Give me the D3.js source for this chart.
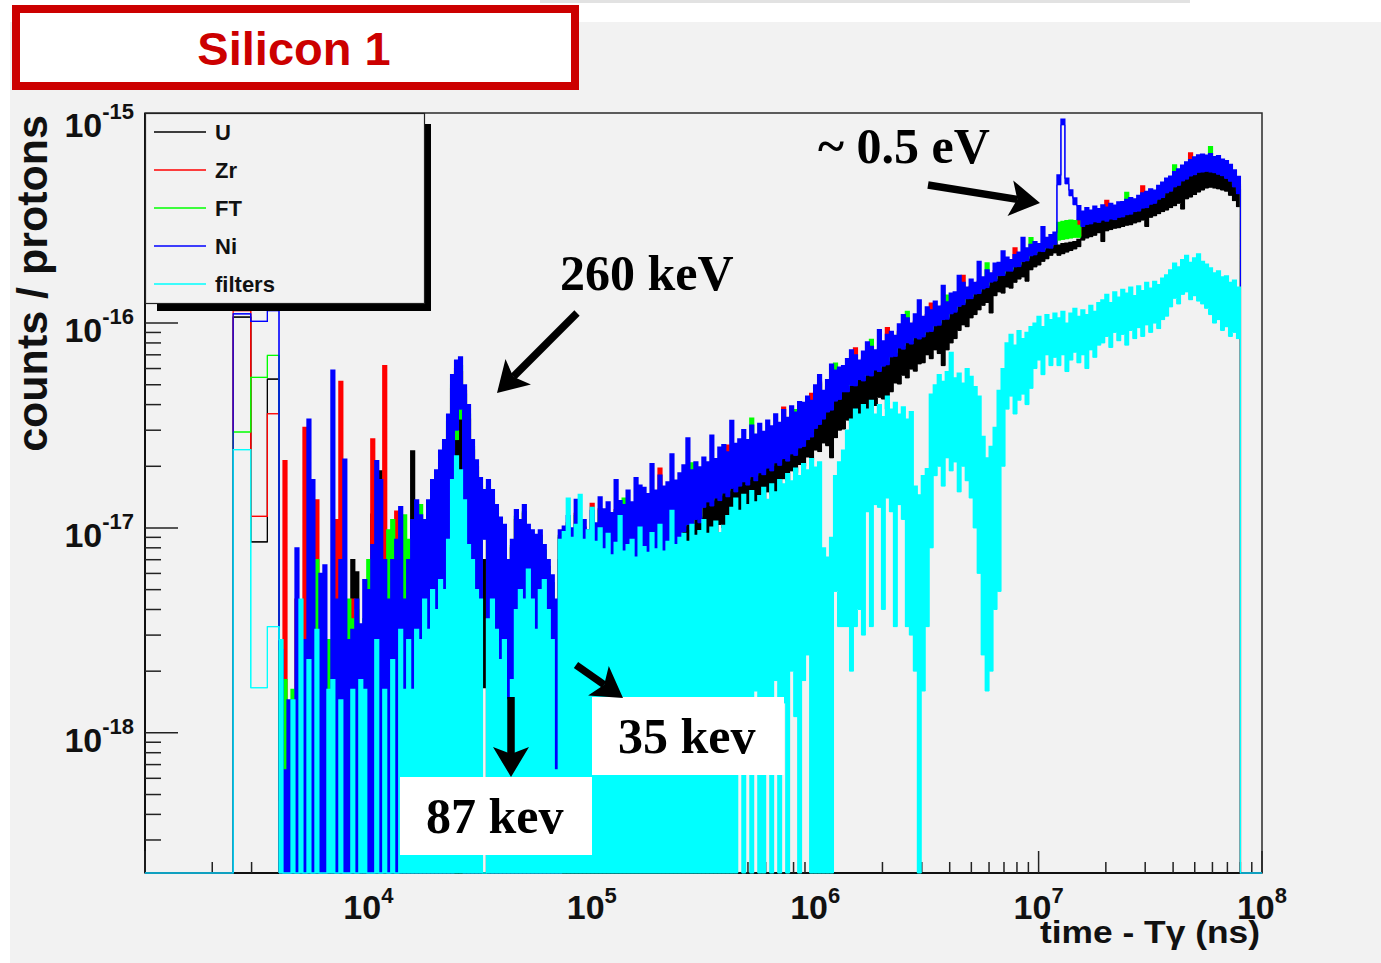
<!DOCTYPE html>
<html>
<head>
<meta charset="utf-8">
<script src="https://cdn.jsdelivr.net/npm/d3@7"></script>
<style>
  body { margin: 0; background: #ffffff; }
  svg { display: block; }
</style>
</head>
<body>
<svg id="chart" width="1381" height="963"></svg>
<script>
// ---------------------------------------------------------------------------
// Silicon detector 1: yield versus time of flight (time - T_gamma, ns)
// for the U, Zr, FT, Ni and filter runs. Yields are in units of 1e-18
// counts per proton.
// ---------------------------------------------------------------------------
const UNIT = 1e-18;

const seriesNames = ["U", "Zr", "FT", "Ni", "filters"];

// Three wide leading bins (edges in ns) and their contents
const headEdges = [2480, 2975, 3530, 3980];
const headU       = [107, 8.55, 53.3];
const headZr      = [115, 11.4, 36.1];
const headFT      = [29.4, 54.3, 69.5];
const headNi      = [111, 102, 115];
const headFilters = [24.1, 1.66, 3.3];

// Fine binning: log-spaced from 3980 ns, 56 bins per decade, 241 bins.
// For every fine bin the upper (Hi) and lower (Lo) envelope of the yield
// is kept; 0 means an empty bin.
const fineStart = 3980;
const binsPerDecade = 56;
const nFine = 241;

const niHi = [
  2.55,0.66,1.45,0.74,8.0,1.16,2.85,34,17.2,1.63,6.0,6.6,1.45,59,4.5,7.0,21.7,2.85,3.2,4.5,
  3.4,5.6,5.0,8.3,21.3,17.2,7.0,4.5,7.0,8.8,12.7,4.5,7.0,11,13.7,11.6,11,13.7,17.2,19.2,24,
  27,36,56,66,68.5,50,40,27,21.5,17.6,15.4,17.2,15.4,13,11.3,10.4,7.0,8.8,12.3,11,
  13,10.4,9.8,9.3,9.8,8.3,7.0,5.9,4.5,9.8,
  10.2,11.5,10.0,13.8,10.5,11.0,9.8,12.2,10.6,14.2,
  12.4,13.4,11.9,17.2,13.6,13.0,15.3,13.4,17.6,16.2,
  15.8,14.7,20.6,15.3,18.1,16.0,16.8,23.0,17.1,18.6,
  20.3,27.5,19.2,21.0,19.9,22.2,21.0,28.4,21.8,24.8,
  25.5,23.5,33.5,25.9,27.2,30.2,27.0,31.8,28.7,32.4,
  29.6,33.6,31.5,36.1,32.8,37.8,34.7,39.5,36.8,41.4,
  41,44,42,50,56,47,53,63,59,61,
  62,67,74,70,66,73,81,77,74,93,
  82,88,91,87,99,110,106,100,111,130,
  108,120,116,128,121,153,127,140,142,171,
  158,150,164,158,200,168,182,176,196,198,
  225,210,204,216,222,262,233,242,250,244,
  296,262,270,278,
  529,990,510,447,408,374,
  352,366,356,372,362,378,368,384,376,390,
  392,402,410,404,420,432,440,452,446,470,
  488,510,522,548,566,590,612,628,648,662,
  668,660,672,650,656,632,620,596,560,520
];
const niLo = [
  0,0,0,0,0,0,0,0,0,0,0,0,0,0,0,0,0,0,0,0,0,0,0,0,0,0,0,0,0,0,0,0,0,0,0,0,0,0,0,0,0,
  0,0,0,30,38,0,0,0,0,0,8.8,0,0,0,0,0,0,0,0,0,0,0,0,0,0,0,0,0,0,0,
  5.6,6.0,5.2,6.4,5.8,5.4,6.2,5.6,5.0,6.6,
  5.8,6.2,5.4,6.0,6.8,5.6,6.4,6.0,7.0,6.6,
  7.2,6.8,7.6,7.0,8.0,7.4,8.2,8.8,8.0,9.0,
  9.6,10.4,9.8,11.0,10.6,
  12.6,13.4,12.8,14.0,13.6,14.8,14.2,15.6,15.0,16.0,
  16.8,16.2,17.8,17.0,18.6,18.2,19.6,19.0,20.8,20.2,
  21.8,21.2,23.0,22.6,24.6,25.0,27.0,27.8,30.6,32.0,
  34,36.8,37.6,41.6,42.4,46.2,46.2,49.6,49.4,53,
  52.2,55.6,55.2,59,58,61.6,62.6,68.4,68.8,75.6,
  74.6,80.2,79,84.8,83.6,
  85.6,90.6,91,97,97.6,104,104.4,111,113,120.6,
  123,131.4,131.6,138.6,139.4,146.8,149,158.4,160.4,170.4,
  170.6,179.4,179.2,188,188.6,199.6,201.4,213,215.4,224,
  223.4,232.6,232,242,
  473,928,478,418,378,319,
  296,303,305,312,310,318,314,322,320,328,
  330,338,340,350,352,364,366,380,384,402,
  410,432,440,462,470,494,504,522,530,544,
  546,550,546,542,532,524,508,492,462,428
];

const uHi = [
  0.47,0.74,0.83,0.47,1.16,0,1.45,2.85,2.85,1.45,0,0.74,0,1.16,2.55,1.45,0,1.45,7.0,6.1,
  1.63,2.85,4.5,11.7,4.5,19,8.3,2.85,4.5,7.0,6.3,4.5,4.5,23.8,11,7.0,9.3,7.0,9.3,8.8,13.7,
  17.2,21.5,30,38,41.5,34,21.5,13.7,8.8,7.0,7.0,11,9.8,8.8,8.3,7.0,5.6,7.0,7.8,8.3,
  7.4,7.0,7.8,7.0,7.4,6.3,5.6,4.5,3.6,7.0,
  8.2,8.6,8.0,8.8,8.4,8.6,8.2,9.0,8.6,9.0,
  9.0,9.4,9.2,9.8,9.6,10.0,10.4,10.2,10.8,11.0,
  11.2,11.0,11.8,11.6,12.4,12.0,12.8,13.2,13.0,13.8,
  14.2,14.6,14.4,15.2,15.0,15.8,16.0,16.8,16.6,17.6,
  18.2,18.0,19.4,19.2,20.2,20.8,21.0,22.4,22.2,23.6,
  23.8,24.8,25.0,26.6,26.4,28.0,28.2,30.0,29.8,31.8,
  27,29,30,33,34.5,
  36.7,39.7,40.6,44.9,45.8,49.9,49.9,53.6,53.4,57.2,
  56.4,60,59.6,63.7,62.6,66.5,67.6,73.9,74.3,81.6,
  80.6,86.6,85.3,91.6,90.3,
  92.4,97.8,98.3,104.8,105.4,112.3,112.8,119.9,122,130.2,
  132.8,141.9,142.1,149.7,150.6,158.5,160.9,171.1,173.2,184,
  184.2,193.8,193.5,203,203.7,215.6,217.5,230,232.6,241.9,
  241.3,251.2,250.6,261.4,
  240,244,246,248,250,256,
  311,318,320,328,326,334,330,338,336,344,
  347,355,357,368,370,382,384,399,403,422,
  431,454,462,485,494,519,529,548,557,571,
  573,578,573,569,559,550,533,517,485,449
];
const uLo = [
  0,0,0,0,0,0,0,0,0,0,0,0,0,0,0,0,0,0,0,0,0,0,0,0,0,0,0,0,0,0,0,0,0,0,0,0,0,0,0,0,0,
  0,0,0,13.7,13.7,0,0,0,0,0,1.66,0,0,0,0,0,0,0,0,0,0,0,0,0,0,0,0,0,0,0,
  4.0,3.6,4.4,3.8,4.2,4.6,4.0,4.8,4.4,5.0,
  4.6,5.2,4.8,5.4,5.0,5.6,5.2,5.8,5.4,6.0,
  5.8,6.4,6.0,6.8,6.4,7.0,6.6,7.4,7.0,7.8,
  6.2,6.8,8.2,7.6,8.6,9.4,8.8,9.8,9.2,10.4,
  10.0,11.2,10.6,11.8,11.0,12.4,12.0,13.4,12.6,14.0,
  13.4,15.0,14.6,13.0,15.8,17.4,17.0,19.0,18.6,20.4,
  20.0,22.2,21.6,24.0,23.6,26.0,25.2,22.0,27.6,30.0,
  30.4,33.6,32.2,35.8,34.6,37.6,36.4,40.0,39.6,43.4,
  42.6,38.0,46.2,51.0,50.4,55.6,54.0,59.6,58.2,63.2,
  64,70,67,74,71,62,74,80,84,92,
  98,96,106,110,116,122,126,112,136,142,
  140,150,148,158,164,168,160,182,188,192,
  200,206,214,220,
  214,218,222,226,230,236,
  254,260,264,268,276,250,282,286,290,292,
  296,300,302,308,312,318,296,328,334,342,
  350,356,366,374,384,360,404,412,424,436,
  446,456,460,456,452,446,440,420,396,370
];

const zrHi = [
  1.45,21.3,1.16,0.59,4.5,3.2,31,7.0,3.6,13.7,4.0,1.45,1.82,1.45,11,52,3.6,2.28,4.5,2.85,
  1.45,2.55,3.6,27.2,4.5,7.0,62,3.6,5.6,12.1,7.0,4.5,5.0,7.0,8.8,9.8,7.0,11,12.3,13.7,17.2,
  25,30,48,60,58,47,34,24,20,16,11,15,14,12,10.5,9.6,6.4,8.0,11,10.2,
  11.8,9.6,9.0,8.6,9.2,7.6,6.5,5.4,4.0,9.0,
  9.4,10.6,9.2,11.8,9.7,10.1,9.0,13.2,9.8,12.4,
  10.6,11.4,10.1,12.3,11.6,11.0,13.1,11.4,12.7,13.8,
  13.4,12.5,14.2,13.1,19.6,13.6,14.4,16.6,14.5,15.8,
  17.3,19.7,16.4,17.8,16.9,19.0,17.8,20.6,18.6,21.2,
  21.7,25.4,24.3,22.1,23.2,25.8,23.0,27.0,24.5,27.6,
  25.9,29.4,27.6,31.6,28.7,38.9,30.4,34.6,32.2,36.2,
  37.7,40.5,45.4,46,51.5,43.2,48.8,50.6,54.3,56.1,
  57,61.6,58.9,75.6,60.7,67.2,64.4,70.8,68.1,74.5,
  75.4,95,83.7,80,91.1,87.4,97.5,92,102,104,
  99.4,110,125,118,111,122,117,129,131,137,
  171,138,151,145,160,155,167,168,180,182,
  180,193,188,233,204,210,214,223,230,236,
  236,241,248,256,
  290,296,300,304,310,318,
  324,337,328,342,333,348,397,353,346,359,
  361,370,377,372,386,467,405,416,410,432,
  449,469,480,504,521,543,563,678,596,609,
  615,607,618,598,604,581,570,548,515,478
];
const zrLo = [
  0,0,0,0,0,0,0,0,0,0,0,0,0,0,0,0,0,0,0,0,0,0,0,0,0,0,0,0,0,0,0,0,0,0,0,0,0,0,0,0,0,
  0,0,0,28,36,0,0,0,0,0,9,0,0,0,0,0,0,0,0,0,0,0,0,0,0,0,0,0,0,0,
  6.0,6.5,5.6,6.9,6.3,5.8,6.7,6.0,5.4,7.1,
  6.3,6.7,5.8,6.5,7.3,6.0,6.9,6.5,7.6,7.1,
  7.8,7.3,8.2,7.6,8.6,8.0,8.9,9.5,8.6,9.7,
  10.4,11.2,10.6,11.9,11.4,
  13.6,14.5,13.8,15.1,14.7,16.0,15.3,16.8,16.2,17.3,
  18.1,17.5,19.2,18.4,20.1,19.7,21.2,20.5,22.5,21.8,
  23.5,22.9,24.8,24.4,26.6,27.0,29.2,30.0,33.0,34.6,
  36,39,39.9,44.1,44.9,49,49,52.6,52.4,56.2,
  55.3,58.9,58.5,62.5,61.5,65.3,66.4,72.5,72.9,80.1,
  79.1,85,83.7,89.9,88.6,
  88.2,93.3,93.7,99.9,100.5,107.1,107.5,114.3,116.4,124.2,
  126.7,135.3,135.5,142.8,143.6,151.2,153.5,163.2,165.2,175.5,
  175.7,184.8,184.6,193.6,194.3,205.6,207.4,219.4,221.9,230.7,
  230.1,239.6,239,249.3,
  256,258,260,262,264,266,
  305,312,314,321,319,328,323,332,330,338,
  340,348,350,360,363,375,377,391,396,414,
  422,445,453,476,484,509,519,538,546,560,
  562,567,562,558,548,540,523,507,476,441
];

const ftHi = [
  0.74,1.82,0.93,1.63,1.45,0.74,1.16,1.45,2.55,7.0,4.5,0.59,2.85,0.74,3.6,1.45,2.28,4.5,3.6,4.0,
  2.55,3.6,7.0,4.5,5.6,3.6,4.5,9.8,11,7.0,9.8,11.6,8.8,5.6,8.8,13,8.8,9.8,13.7,12.3,15.4,
  24,33,50,58,62,45,36,25,19,15.6,13,15.8,13.6,12,10,9.4,6.6,8.2,11.4,10,
  12,9.8,8.8,8.8,9.0,7.8,6.4,5.4,4.2,9.2,
  9.2,10.3,9.0,11.5,9.5,9.9,8.8,11.0,9.5,12.2,
  10.4,11.2,9.9,12.1,11.3,14.0,12.8,11.2,12.4,13.5,
  13.1,12.2,13.9,12.8,15.1,13.3,14.0,16.2,14.2,15.5,
  16.9,19.3,20.8,17.5,16.6,18.5,17.5,20.2,18.2,20.7,
  21.2,19.6,23.8,21.6,22.7,25.2,22.5,34.4,23.9,27.0,
  25.4,28.8,27.0,31.0,28.1,32.4,29.7,33.8,37.8,35.5,
  36.9,39.6,37.8,45,50.4,42.3,47.7,49.5,63.7,54.9,
  55.8,60.3,57.6,63,59.4,65.7,63,83.2,66.6,72.9,
  73.8,79.2,81.9,78.3,89.1,85.5,114,90,99.9,102,
  97.2,108,104,115,109,120,137,126,128,134,
  142,135,148,142,157,151,197,166,176,178,
  176,189,184,194,200,205,210,261,225,234,
  231,246,243,250,
  310,314,316,318,316,300,
  317,329,320,335,326,340,331,346,338,351,
  353,434,369,364,378,389,396,407,401,423,
  439,459,470,592,509,531,551,565,583,596,
  601,594,726,585,590,569,558,536,504,468
];
const ftLo = [
  0,0,0,0,0,0,0,0,0,0,0,0,0,0,0,0,0,0,0,0,0,0,0,0,0,0,0,0,0,0,0,0,0,0,0,0,0,0,0,0,0,
  0,0,0,27,34,0,0,0,0,0,9,0,0,0,0,0,0,0,0,0,0,0,0,0,0,0,0,0,0,0,
  5.9,6.4,5.5,6.8,6.2,5.7,6.6,5.9,5.3,7.0,
  6.2,6.6,5.7,6.4,7.2,5.9,6.8,6.4,7.4,7.0,
  7.6,7.2,8.1,7.4,8.5,7.8,8.7,9.3,8.5,9.5,
  10.2,11.0,10.4,11.7,11.2,
  13.4,14.2,13.6,14.8,14.4,15.7,15.1,16.5,15.9,17.0,
  17.8,17.2,18.9,18.0,19.7,19.3,20.8,20.1,22.0,21.4,
  23.1,22.5,24.4,24.0,26.1,26.5,28.6,29.5,32.4,33.9,
  35.4,38.3,39.1,43.3,44.1,48,48,51.6,51.4,55.1,
  54.3,57.8,57.4,61.4,60.3,64.1,65.1,71.1,71.6,78.6,
  77.6,83.4,82.2,88.2,86.9,
  87.3,92.4,92.8,98.9,99.6,106.1,106.5,113.2,115.3,123,
  125.5,134,134.2,141.4,142.2,149.7,152,161.6,163.6,173.8,
  174,183,182.8,191.8,192.4,203.6,205.4,217.3,219.7,228.5,
  227.9,237.3,236.6,246.8,
  254,256,258,260,262,262,
  302,309,311,318,316,324,320,328,326,335,
  337,345,347,357,359,371,373,388,392,410,
  418,441,449,471,479,504,514,532,541,555,
  557,561,557,553,543,534,518,502,471,437
];

const filtersHi = [
  2.85,0,0,1.45,0,4.5,0,2.28,0,3.2,0,0,1.63,1.82,0,1.45,0,0,1.63,0,
  1.82,1.63,0,0,2.85,0,1.63,0,2.28,0,3.2,1.63,2.85,1.63,3.2,2.85,4.5,3.2,5.0,4.0,5.6,
  5.0,8.8,17.2,22.5,19.2,13.7,8.3,7.0,5.0,4.5,0,3.6,4.5,3.2,2.28,2.85,1.45,1.82,4.0,5.0,
  4.5,6.3,4.5,3.2,5.0,5.6,4.0,2.85,0.66,8.8,
  9.6,14.0,9.0,10.4,14.6,8.8,9.8,12.6,8.6,10.0,
  7.9,9.4,7.4,8.5,11.5,7.7,8.3,8.8,7.2,10.1,
  8.1,7.6,9.5,7.9,10.4,7.7,8.6,12.2,8.3,9.0,
  9.4,8.6,10.4,9.2,9.7,11.0,9.4,10.1,10.8,9.5,10.3,11.5,
  12.6,14.0,12.2,14.6,13.0,15.2,13.4,14.4,15.8,13.8,16.4,15.0,17.2,
  16.4,18.4,17.0,19.6,18.0,20.6,19.2,21.8,19.8,21.0,
  8.0,7.2,9.0,
  18,21,24,
  30,34,38,36,40,
  38,42,36,40,35,44,38,41,36,39,34,37,
  16,14.5,18,19.5,
  45,50,56,52,58,72,54,57,51,60,55,49,44,
  28,22,25,31,
  47,60,
  80,88,78,92,84,90,96,
  100,108,96,110,104,112,
  106,114,100,112,118,108,116,110,122,114,126,
  130,138,126,142,134,146,140,150,136,152,144,158,148,160,154,166,172,
  182,196,188,204,214,198,208,218,200,194,
  186,176,180,168,170,158,162,150
];
const filtersLo = [
  0,0,0,0,0,0,0,0,0,0,0,0,0,0,0,0,0,0,0,0,0,0,0,0,0,0,0,0,0,0,0,0,0,0,0,0,0,0,0,0,0,
  0,0,0,0,0,0,0,0,0,0,0,0,0,0,0,0,0,0,0,0,0,0,0,0,0,0,0,0,0,0,
  0,0,0,0,0,0,0,0,0,0,0,0,0,0,0,0,0,0,0,0,0,
  0,0,0,0,0,0,0,0,0,0,0,0,0,0,0,0,0,0,0,0,0,
  0,0,1.2,0,0.8,0,1.6,0,0,1.0,0,1.8,0,
  1.4,0,2.0,1.2,0,1.8,2.4,0,0,0,
  0,0,0,
  4.9,3.3,3.3,
  3.3,2.0,3.3,4.0,3.0,
  12,3.3,13,12.6,4.0,14,12,3.3,13,11,3.3,3.0,
  2.0,0,1.6,3.3,
  8,18,20,16,22,19,21,15,20,17,14,10,6,
  2.4,1.6,2.0,4.0,
  4.9,20,
  38,44,36,42,45,40,48,
  60,66,56,70,62,68,
  62,70,58,66,72,64,70,60,74,68,78,
  80,86,76,90,82,88,78,92,84,95,86,98,90,100,94,104,108,
  120,132,124,138,142,130,136,128,124,118,
  110,100,104,92,96,86,90,84
];

// Axis decades
const xTickExps = [3, 4, 5, 6, 7, 8];
const xLabelExps = [4, 5, 6, 7, 8];
const yTickExps = [-15, -16, -17, -18];

// ---------------------------------------------------------------------------
// Layout
// ---------------------------------------------------------------------------
const W = 1381, H = 963;
const frame = { left: 145, right: 1262, top: 113, bottom: 873 };
const seriesColors = ["#000000", "#ff0000", "#00ff00", "#0000ff", "#00ffff"];
const SANS = "'Liberation Sans', Arial, Helvetica, sans-serif";
const SERIF = "'Liberation Serif', 'Times New Roman', serif";

const svg = d3.select("#chart");

const x = d3.scaleLog().domain([1e3, 1e8]).range([frame.left, frame.right]);
const y = d3.scaleLog().domain([2.07e-19, 1.06e-15]).range([frame.bottom, frame.top]);
const yMin = y.domain()[0];
const yPos = v => (v > 0 ? y(Math.max(v * UNIT, yMin)) : frame.bottom);

// Canvas
svg.append("rect").attr("width", W).attr("height", H).attr("fill", "#ffffff");
svg.append("rect").attr("x", 10).attr("y", 22).attr("width", W - 10).attr("height", H - 22)
  .attr("fill", "#f2f2f2");
svg.append("rect").attr("x", 540).attr("y", 0).attr("width", 650).attr("height", 3)
  .attr("fill", "#e2e2e2");

// Title box
svg.append("rect").attr("x", 16).attr("y", 9).attr("width", 559).attr("height", 77)
  .attr("fill", "#ffffff").attr("stroke", "#cc0000").attr("stroke-width", 8);
svg.append("text").attr("x", 294).attr("y", 65).attr("text-anchor", "middle")
  .attr("font-family", SANS).attr("font-weight", "bold").attr("font-size", 47)
  .attr("fill", "#cc0000").text("Silicon 1");

// ---------------------------------------------------------------------------
// Frame and axes
// ---------------------------------------------------------------------------
const axisG = svg.append("g");
axisG.append("rect").attr("x", frame.left).attr("y", frame.top)
  .attr("width", frame.right - frame.left).attr("height", frame.bottom - frame.top)
  .attr("fill", "#f2f2f2").attr("stroke", "#2a2a2a").attr("stroke-width", 1.5);
axisG.append("line").attr("x1", frame.left).attr("x2", frame.left)
  .attr("y1", frame.top).attr("y2", frame.bottom).attr("stroke", "#111").attr("stroke-width", 2);
axisG.append("line").attr("x1", frame.left).attr("x2", frame.right)
  .attr("y1", frame.bottom).attr("y2", frame.bottom).attr("stroke", "#111").attr("stroke-width", 2);

// y ticks (log decades + minor)
const yMajor = yTickExps.map(e => Math.pow(10, e));
const yMinor = [];
for (let e = -19; e <= -16; e++) for (let m = 2; m <= 9; m++) {
  const v = m * Math.pow(10, e);
  if (v >= y.domain()[0] && v <= y.domain()[1]) yMinor.push(v);
}
axisG.selectAll(".ymin").data(yMinor).join("line")
  .attr("x1", frame.left).attr("x2", frame.left + 16)
  .attr("y1", d => y(d)).attr("y2", d => y(d))
  .attr("stroke", "#222").attr("stroke-width", 1.5);
axisG.selectAll(".ymaj").data(yMajor).join("line")
  .attr("x1", frame.left).attr("x2", frame.left + 33)
  .attr("y1", d => y(d)).attr("y2", d => y(d))
  .attr("stroke", "#222").attr("stroke-width", 1.5);

// x ticks
const xMajor = xTickExps.map(e => Math.pow(10, e)).filter(v => v <= x.domain()[1]);
const xMinor = [];
for (let e = 3; e <= 7; e++) for (let m = 2; m <= 9; m++) xMinor.push(m * Math.pow(10, e));
axisG.selectAll(".xmin").data(xMinor).join("line")
  .attr("x1", d => x(d)).attr("x2", d => x(d))
  .attr("y1", frame.bottom).attr("y2", frame.bottom - 11)
  .attr("stroke", "#222").attr("stroke-width", 1.5);
axisG.selectAll(".xmaj").data(xMajor).join("line")
  .attr("x1", d => x(d)).attr("x2", d => x(d))
  .attr("y1", frame.bottom).attr("y2", frame.bottom - 22)
  .attr("stroke", "#222").attr("stroke-width", 1.5);

// ---------------------------------------------------------------------------
// Histograms
// ---------------------------------------------------------------------------
const fineEdges = d3.range(nFine + 1).map(i => fineStart * Math.pow(10, i / binsPerDecade));
const edges = headEdges.slice(0, -1).concat(fineEdges);

const seriesData = [
  { head: headU,       hi: uHi,       lo: uLo },
  { head: headZr,      hi: zrHi,      lo: zrLo },
  { head: headFT,      hi: ftHi,      lo: ftLo },
  { head: headNi,      hi: niHi,      lo: niLo },
  { head: headFilters, hi: filtersHi, lo: filtersLo }
].map((s, k) => {
  const n = Math.min(s.hi.length, s.lo.length, nFine);
  const hi = s.head.concat(s.hi.slice(0, n));
  const lo = s.head.concat(s.lo.slice(0, n));
  return { name: seriesNames[k], color: seriesColors[k], hi, lo };
});

svg.append("clipPath").attr("id", "plotClip").append("rect")
  .attr("x", frame.left).attr("y", frame.top)
  .attr("width", frame.right - frame.left).attr("height", frame.bottom - frame.top + 1);

const histG = svg.append("g").attr("clip-path", "url(#plotClip)");

const area = d3.area()
  .x(d => x(d.t)).y0(d => yPos(d.lo)).y1(d => yPos(d.hi))
  .curve(d3.curveStepAfter);
const line = d3.line().x(d => x(d.t)).y(d => yPos(d.v)).curve(d3.curveStepAfter);

seriesData.forEach(s => {
  const nb = s.hi.length;
  const pts = s.hi.map((h, i) => ({ t: edges[i], hi: h, lo: s.lo[i] }));
  pts.push({ t: edges[nb], hi: s.hi[nb - 1], lo: s.lo[nb - 1] });

  const hiPts = [{ t: x.domain()[0], v: 0 }]
    .concat(s.hi.map((h, i) => ({ t: edges[i], v: h })))
    .concat([{ t: edges[nb], v: 0 }, { t: x.domain()[1], v: 0 }]);
  const loPts = s.lo.map((l, i) => ({ t: edges[i], v: l }))
    .concat([{ t: edges[nb], v: s.lo[nb - 1] }]);

  const g = histG.append("g").attr("class", "hist-" + s.name);
  g.append("path").attr("d", area(pts)).attr("fill", s.color)
    .attr("shape-rendering", "crispEdges");
  g.append("path").attr("d", line(loPts)).attr("fill", "none")
    .attr("stroke", s.color).attr("stroke-width", 1);
  g.append("path").attr("d", line(hiPts)).attr("fill", "none")
    .attr("stroke", s.color).attr("stroke-width", 1.2);
});

// ---------------------------------------------------------------------------
// Legend
// ---------------------------------------------------------------------------
const leg = svg.append("g");
leg.append("rect").attr("x", 157).attr("y", 124).attr("width", 274).attr("height", 187)
  .attr("fill", "#000");
leg.append("rect").attr("x", 145.5).attr("y", 113.5).attr("width", 279).attr("height", 190)
  .attr("fill", "#f2f2f2").attr("stroke", "#222").attr("stroke-width", 1.2);
seriesData.forEach((s, k) => {
  const ry = 132 + k * 38;
  leg.append("line").attr("x1", 154).attr("x2", 206).attr("y1", ry).attr("y2", ry)
    .attr("stroke", s.color).attr("stroke-width", 1.6);
  leg.append("text").attr("x", 215).attr("y", ry).attr("dy", "0.36em")
    .attr("font-family", SANS).attr("font-weight", "bold").attr("font-size", 22)
    .attr("fill", "#111").text(s.name);
});

// ---------------------------------------------------------------------------
// Tick labels and axis titles
// ---------------------------------------------------------------------------
const labG = svg.append("g").attr("font-family", SANS).attr("font-weight", "bold").attr("fill", "#111");
yTickExps.forEach(e => {
  const ty = y(Math.pow(10, e));
  const t = labG.append("text").attr("x", 134).attr("y", ty + 19).attr("text-anchor", "end");
  t.append("tspan").attr("font-size", 34).text("10");
  t.append("tspan").attr("font-size", 22).attr("dy", -18).text(String(e));
});
xLabelExps.forEach(e => {
  const tx = x(Math.pow(10, e));
  const t = labG.append("text").attr("x", tx).attr("y", 919).attr("text-anchor", "middle");
  t.append("tspan").attr("font-size", 34).text("10");
  t.append("tspan").attr("font-size", 22).attr("dy", -16).text(String(e));
});
labG.append("text").attr("x", 1260).attr("y", 943).attr("text-anchor", "end")
  .attr("font-size", 32).attr("textLength", 220).attr("lengthAdjust", "spacingAndGlyphs")
  .text("time - T\u03b3 (ns)");
labG.append("text").attr("transform", "translate(47,115) rotate(-90)")
  .attr("text-anchor", "end").attr("font-size", 43).text("counts / protons");

// ---------------------------------------------------------------------------
// Annotations
// ---------------------------------------------------------------------------
const ann = svg.append("g");
function arrow(x1, y1, x2, y2) {
  const a = Math.atan2(y2 - y1, x2 - x1);
  const ux = Math.cos(a), uy = Math.sin(a), px = -uy, py = ux;
  const headLen = 30, half = 18, notch = 7;
  const bx = x2 - ux * headLen, by = y2 - uy * headLen;
  ann.append("line").attr("x1", x1).attr("y1", y1)
    .attr("x2", bx + ux * notch).attr("y2", by + uy * notch)
    .attr("stroke", "#000").attr("stroke-width", 7.5);
  ann.append("path")
    .attr("d", `M${x2},${y2}L${bx + px * half},${by + py * half}L${bx + ux * notch},${by + uy * notch}L${bx - px * half},${by - py * half}Z`)
    .attr("fill", "#000");
}
function label(tx, ty, str) {
  ann.append("text").attr("x", tx).attr("y", ty)
    .attr("font-family", SERIF).attr("font-weight", "bold").attr("font-size", 50)
    .attr("fill", "#000").text(str);
}

label(818, 163, "~ 0.5 eV");
arrow(928, 185, 1040, 203);

label(560, 290, "260 keV");
arrow(577, 313, 497, 393);

ann.append("rect").attr("x", 592).attr("y", 697).attr("width", 192).attr("height", 78).attr("fill", "#fff");
label(618, 753, "35 kev");
arrow(576, 665, 623, 698);

arrow(511, 697, 511, 777);
ann.append("rect").attr("x", 400).attr("y", 777).attr("width", 192).attr("height", 78).attr("fill", "#fff");
label(426, 833, "87 kev");
</script>
</body>
</html>
